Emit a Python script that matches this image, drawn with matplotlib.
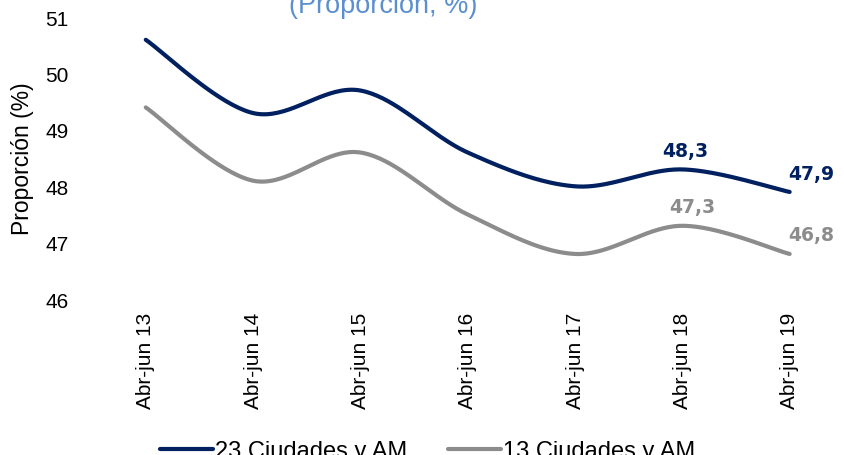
import numpy as np
import matplotlib
matplotlib.use("Agg")
import matplotlib.pyplot as plt

plt.rcParams["font.family"] = ["Liberation Sans", "DejaVu Sans"]

periodos = ["Abr-jun 13", "Abr-jun 14", "Abr-jun 15", "Abr-jun 16",
            "Abr-jun 17", "Abr-jun 18", "Abr-jun 19"]
ciudades_23 = [50.6, 49.3, 49.7, 48.6, 48.0, 48.3, 47.9]
ciudades_13 = [49.4, 48.1, 48.6, 47.5, 46.8, 47.3, 46.8]

azul = "#002060"
gris = "#8c8c8c"


# Excel-like smoothed line (Catmull-Rom as cubic Bezier segments)
def suavizar(y, n=40):
    x = np.arange(len(y), dtype=float)
    y = np.asarray(y, dtype=float)
    xs, ys = [], []
    for i in range(len(y) - 1):
        p0 = (x[max(i - 1, 0)], y[max(i - 1, 0)])
        p1 = (x[i], y[i])
        p2 = (x[i + 1], y[i + 1])
        p3 = (x[min(i + 2, len(y) - 1)], y[min(i + 2, len(y) - 1)])
        c1 = (p1[0] + (p2[0] - p0[0]) / 6, p1[1] + (p2[1] - p0[1]) / 6)
        c2 = (p2[0] - (p3[0] - p1[0]) / 6, p2[1] - (p3[1] - p1[1]) / 6)
        t = np.linspace(0, 1, n)
        for k in range(2):
            b = ((1 - t) ** 3 * p1[k] + 3 * (1 - t) ** 2 * t * c1[k]
                 + 3 * (1 - t) * t ** 2 * c2[k] + t ** 3 * p2[k])
            (xs if k == 0 else ys).append(b)
    return np.concatenate(xs), np.concatenate(ys)


fig = plt.figure(figsize=(8.45, 4.56), dpi=100)
ax = fig.add_axes([0.109, 0.342, 0.889, 0.618])

x23, y23 = suavizar(ciudades_23)
x13, y13 = suavizar(ciudades_13)
ax.plot(x23, y23, color=azul, lw=3, solid_capstyle="round", label="23 Ciudades y AM")
ax.plot(x13, y13, color=gris, lw=3, solid_capstyle="round", label="13 Ciudades y AM")

ax.set_xlim(-0.5, 6.5)
ax.set_ylim(46, 51)
ax.set_yticks(range(46, 52))
ax.set_xticks(range(len(periodos)))
ax.set_xticklabels(periodos, rotation=90, fontsize=15)
ax.tick_params(axis="y", labelsize=15, length=0, pad=17)
ax.tick_params(axis="x", length=0, pad=9)
for s in ax.spines.values():
    s.set_visible(False)
ax.set_ylabel("Proporción (%)", fontsize=16.5, labelpad=8)

# etiquetas de los dos ultimos periodos
for i, dx in [(5, 0.03), (6, 0.2)]:
    ax.text(i + dx, ciudades_23[i] + 0.33, f"{ciudades_23[i]:.1f}".replace(".", ","),
            color=azul, fontsize=13.5, fontweight="bold", family="DejaVu Sans",
            ha="center", va="center")
    ax.text(i + dx + (0.06 if i == 5 else 0), ciudades_13[i] + 0.34,
            f"{ciudades_13[i]:.1f}".replace(".", ","),
            color=gris, fontsize=13.5, fontweight="bold", family="DejaVu Sans",
            ha="center", va="center")

fig.text(0.4535, 1 - 13 / 456, "(Proporción, %)", color="#5b8fcf",
         fontsize=19.5, ha="center", va="baseline")

fig.legend(loc="lower center", bbox_to_anchor=(0.506, -0.062), ncol=2, frameon=False,
           fontsize=17, handlelength=2.25, handletextpad=0.1, columnspacing=1.7)

fig.savefig("out.png", dpi=100)
